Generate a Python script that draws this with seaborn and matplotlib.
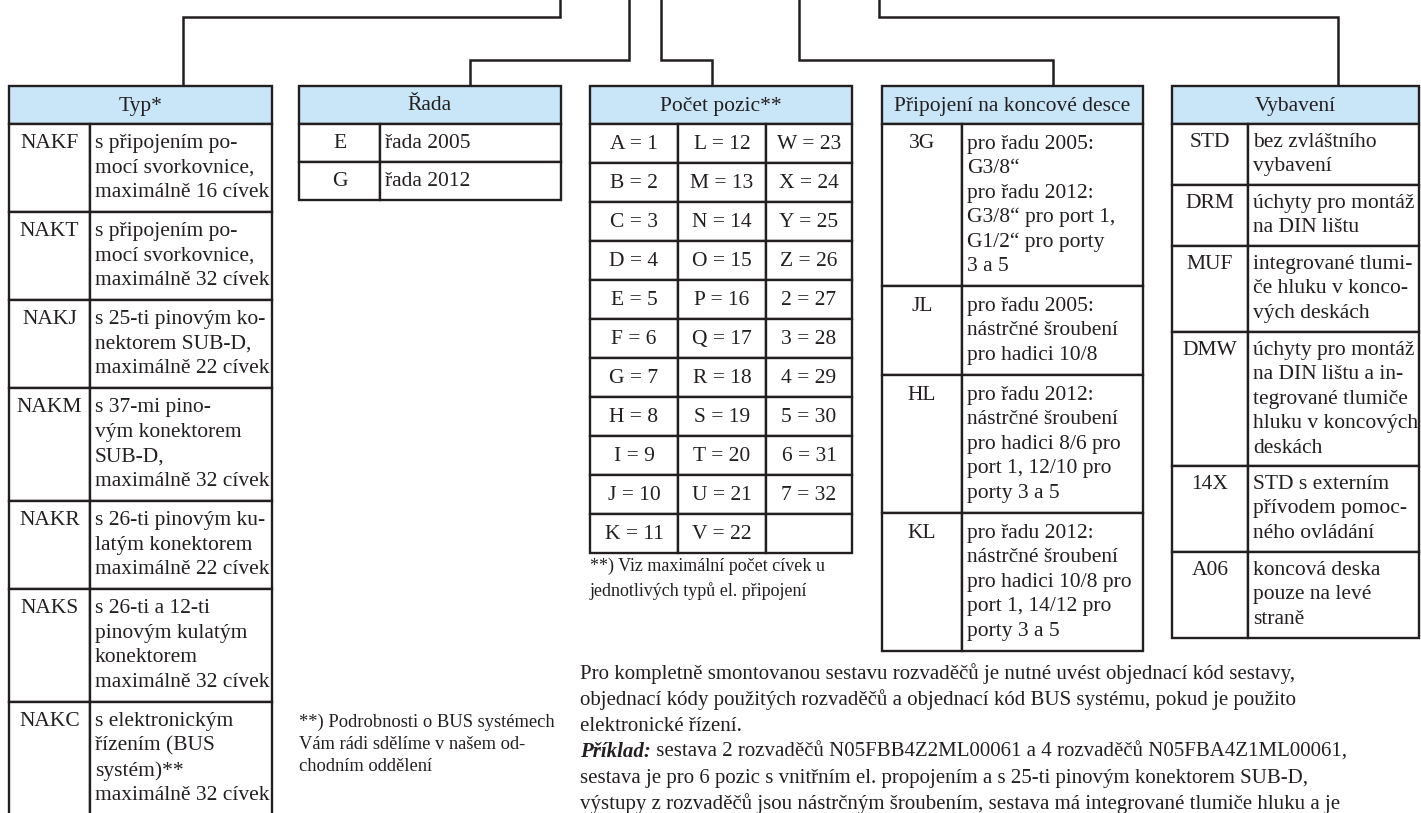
import numpy as np
import pandas as pd
import seaborn as sns
import matplotlib.pyplot as plt
from matplotlib.patches import Rectangle

# Table contents
typ_codes = ["NAKF", "NAKT", "NAKJ", "NAKM", "NAKR", "NAKS", "NAKC"]
typ_desc = [
    "s připojením po-\nmocí svorkovnice,\nmaximálně 16 cívek",
    "s připojením po-\nmocí svorkovnice,\nmaximálně 32 cívek",
    "s 25-ti pinovým ko-\nnektorem SUB-D,\nmaximálně 22 cívek",
    "s 37-mi pino-\nvým konektorem\nSUB-D,\nmaximálně 32 cívek",
    "s 26-ti pinovým ku-\nlatým konektorem\nmaximálně 22 cívek",
    "s 26-ti a 12-ti\npinovým kulatým\nkonektorem\nmaximálně 32 cívek",
    "s elektronickým\nřízením (BUS\nsystém)**\nmaximálně 32 cívek",
]

rada_codes = ["E", "G"]
rada_desc = ["řada 2005", "řada 2012"]

pozice_letters = ["A", "B", "C", "D", "E", "F", "G", "H", "I", "J", "K",
                  "L", "M", "N", "O", "P", "Q", "R", "S", "T", "U", "V",
                  "W", "X", "Y", "Z", "2", "3", "4", "5", "6", "7"]
pozice_values = [1, 2, 3, 4, 5, 6, 7, 8, 9, 10, 11,
                 12, 13, 14, 15, 16, 17, 18, 19, 20, 21, 22,
                 23, 24, 25, 26, 27, 28, 29, 30, 31, 32]

pripojeni_codes = ["3G", "JL", "HL", "KL"]
pripojeni_desc = [
    "pro řadu 2005:\nG3/8“\npro řadu 2012:\nG3/8“ pro port 1,\nG1/2“ pro porty\n3 a 5",
    "pro řadu 2005:\nnástrčné šroubení\npro hadici 10/8",
    "pro řadu 2012:\nnástrčné šroubení\npro hadici 8/6 pro\nport 1, 12/10 pro\nporty 3 a 5",
    "pro řadu 2012:\nnástrčné šroubení\npro hadici 10/8 pro\nport 1, 14/12 pro\nporty 3 a 5",
]

vybaveni_codes = ["STD", "DRM", "MUF", "DMW", "14X", "A06"]
vybaveni_desc = [
    "bez zvláštního\nvybavení",
    "úchyty pro montáž\nna DIN lištu",
    "integrované tlumi-\nče hluku v konco-\nvých deskách",
    "úchyty pro montáž\nna DIN lištu a in-\ntegrované tlumiče\nhluku v koncových\ndeskách",
    "STD s externím\npřívodem pomoc-\nného ovládání",
    "koncová deska\npouze na levé\nstraně",
]

titles = ["Typ*", "Řada", "Počet pozic**", "Připojení na koncové desce", "Vybavení"]

note_pozice = ["**) Viz maximální počet cívek u", "jednotlivých typů el. připojení"]
note_bus = ["**) Podrobnosti o BUS systémech", "Vám rádi sdělíme v našem od-", "chodním oddělení"]
paragraph = [
    "Pro kompletně smontovanou sestavu rozvaděčů je nutné uvést objednací kód sestavy,",
    "objednací kódy použitých rozvaděčů a objednací kód BUS systému, pokud je použito",
    "elektronické řízení.",
    "Příklad:| sestava 2 rozvaděčů N05FBB4Z2ML00061 a 4 rozvaděčů N05FBA4Z1ML00061,",
    "sestava je pro 6 pozic s vnitřním el. propojením a s 25-ti pinovým konektorem SUB-D,",
    "výstupy z rozvaděčů jsou nástrčným šroubením, sestava má integrované tlumiče hluku a je",
]

sns.set_theme(style="white")
plt.rcParams['font.family'] = ['Liberation Serif', 'DejaVu Serif']

INK = "#231f20"
HEAD = "#c9e6f8"
LH = 24.5
FS = 15.5
TOP, HB = 86, 124

fig = plt.figure(figsize=(14.21, 8.13), dpi=100)
ax = fig.add_axes([0, 0, 1, 1])
ax.set_xlim(0, 1421)
ax.set_ylim(813, 0)
ax.axis("off")


def cell(x0, y0, x1, y1, fc="white"):
    ax.add_patch(Rectangle((x0, y0), x1 - x0, y1 - y0, facecolor=fc,
                           edgecolor=INK, lw=1.7, zorder=2))


def put_lines(x, y, text, ha, fs=FS, lh=LH):
    for i, s in enumerate(text.split("\n")):
        ax.text(x, y + i * lh, s, ha=ha, va="center", fontsize=fs, color=INK, zorder=3)


def header(x0, x1, title):
    cell(x0, TOP, x1, HB, HEAD)
    ax.text((x0 + x1) / 2, (TOP + HB) / 2 + 1, title, ha="center", va="center",
            fontsize=FS, color=INK, zorder=3)


def code_table(x0, xd, x1, title, codes, descs, pad):
    header(x0, x1, title)
    y = HB
    for code, desc in zip(codes, descs):
        h = round((desc.count("\n") + 1) * LH + pad)
        cell(x0, y, xd, y + h)
        cell(xd, y, x1, y + h)
        put_lines((x0 + xd) / 2, y + pad / 2 + LH / 2, code, "center")
        put_lines(xd + 5, y + pad / 2 + LH / 2, desc, "left")
        y += h


# connector lines from the order code above
for xs, ys in [([183, 183, 560, 560], [TOP, 17, 17, -5]),
               ([470, 470, 629, 629], [TOP, 60, 60, -5]),
               ([712, 712, 661, 661], [TOP, 60, 60, -5]),
               ([1053, 1053, 799, 799], [TOP, 60, 60, -5]),
               ([1338, 1338, 879, 879], [TOP, 17, 17, -5])]:
    ax.plot(xs, ys, color=INK, lw=1.8, solid_joinstyle="miter", zorder=1)

code_table(9, 90, 272, titles[0], typ_codes, typ_desc, 15)
code_table(299, 380, 561, titles[1], rada_codes, rada_desc, 14)
code_table(882, 962, 1143, titles[3], pripojeni_codes, pripojeni_desc, 15.5)
code_table(1172, 1248, 1419, titles[4], vybaveni_codes, vybaveni_desc, 12)

# positions table, three columns filled top-down
header(590, 852, titles[2])
col_x = [590, 678, 766, 852]
row_h = 39
for c in range(3):
    for r in range(11):
        i = c * 11 + r
        y = HB + r * row_h
        cell(col_x[c], y, col_x[c + 1], y + row_h)
        if i < len(pozice_letters):
            ax.text((col_x[c] + col_x[c + 1]) / 2, y + row_h / 2 + 1,
                    f"{pozice_letters[i]} = {pozice_values[i]}",
                    ha="center", va="center", fontsize=FS, color=INK, zorder=3)

# footnotes
for i, s in enumerate(note_pozice):
    ax.text(590, 566 + i * 25, s, ha="left", va="center", fontsize=13, color=INK)
for i, s in enumerate(note_bus):
    ax.text(299, 722 + i * 22, s, ha="left", va="center", fontsize=13.3, color=INK)

# paragraph at the bottom (last line runs off the page as in the source)
fig.canvas.draw()
renderer = fig.canvas.get_renderer()
for i, s in enumerate(paragraph):
    y = 674 + i * 26
    x = 580
    if "|" in s:
        head, s = s.split("|")
        t = ax.text(x, y, head, ha="left", va="center", fontsize=15,
                    fontweight="bold", fontstyle="italic", color=INK)
        x += t.get_window_extent(renderer).width
    ax.text(x, y, s, ha="left", va="center", fontsize=15, color=INK)

plt.savefig("out.png", dpi=100)
